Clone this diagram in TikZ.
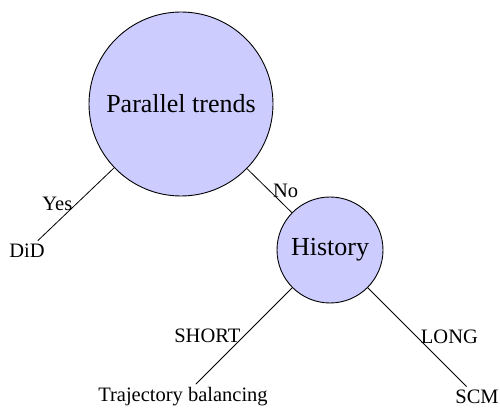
\documentclass[tikz,border=0pt]{standalone}
\usepackage{fontspec}
\setmainfont{Liberation Serif}
\begin{document}
\begin{tikzpicture}[x=1pt,y=1pt,yscale=-1,xscale=1,
  circ/.style={circle,draw,fill=blue!20,line width=0.9pt,inner sep=0pt,font=\fontsize{26}{30}\selectfont},
  lbl/.style={font=\fontsize{20.5}{24}\selectfont},
  edge/.style={line width=0.8pt}]
\useasboundingbox (0,0) rectangle (500,411);
%判断节点
\node [circ,minimum size=184pt] (trends) at (181,104) {Parallel trends};
\node [circ,minimum size=106pt] (history) at (330,250) {History};
%方法
\node [lbl] (did) at (27,251) {DiD};
\node [lbl] (traj) at (183,397) {Trajectory balancing};
\node [lbl] (scm) at (477,397) {SCM};
%分支
\draw [edge] (trends) -- (did) node [lbl,midway,left] (yes) {Yes};
\draw [edge] (trends) -- (history) node [lbl,midway,right] (no) {No};
\draw [edge] (history) -- (traj) node [lbl,midway,left] (short) {SHORT};
\draw [edge] (history) -- (scm) node [lbl,midway,right] (long) {LONG};
\end{tikzpicture}
\end{document}
